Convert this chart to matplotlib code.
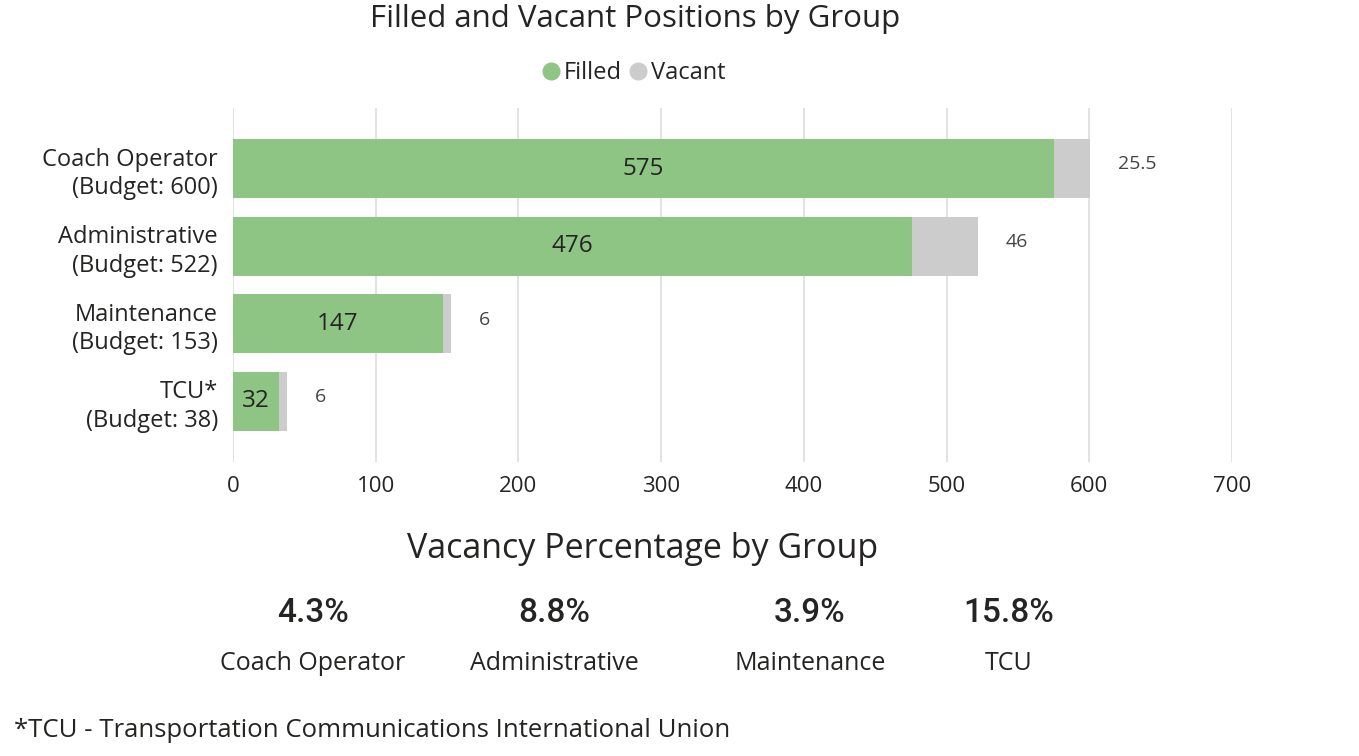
import matplotlib
matplotlib.use("Agg")
import matplotlib.pyplot as plt
from matplotlib.lines import Line2D

plt.rcParams['font.family'] = ['Open Sans', 'DejaVu Sans']

# data
groups = ['Coach Operator', 'Administrative', 'Maintenance', 'TCU']
group_labels = ['Coach Operator\n(Budget: 600)', 'Administrative\n(Budget: 522)',
                'Maintenance\n(Budget: 153)', 'TCU*\n(Budget: 38)']
filled = [575, 476, 147, 32]
vacant = [25.5, 46, 6, 6]
vacancy_pct = [4.3, 8.8, 3.9, 15.8]
xticks = [0, 100, 200, 300, 400, 500, 600, 700]

green = '#8fc584'
grey = '#cccccc'
text_col = '#252423'

fig = plt.figure(figsize=(13.59, 7.56), dpi=100)
ax = fig.add_axes([0.1715, 0.389, 0.735, 0.468])

ypos = list(range(len(groups)))
ax.barh(ypos, filled, height=0.76, color=green, zorder=3)
ax.barh(ypos, vacant, left=filled, height=0.76, color=grey, zorder=3)

for i in ypos:
    ax.text(filled[i] / 2, i, str(filled[i]), ha='center', va='center',
            fontsize=17.5, color=text_col, zorder=4)
    ax.annotate(f'{vacant[i]:g}', (filled[i] + vacant[i], i), xytext=(20, 3),
                textcoords='offset points', ha='left', va='center',
                fontsize=14, color='#444444')

ax.set_xlim(0, 700)
ax.set_ylim(len(groups) - 1 + 0.78, -0.78)
ax.set_xticks(xticks)
ax.set_yticks(ypos)
ax.set_yticklabels(group_labels, fontsize=17, color=text_col, linespacing=1.25)
ax.tick_params(axis='x', labelsize=16, colors=text_col, length=0, pad=10)
ax.tick_params(axis='y', length=0, pad=11)
for lbl in ax.get_yticklabels():
    lbl.set_horizontalalignment('right')
    lbl.set_multialignment('right')
ax.grid(axis='x', color='#dddddd', linewidth=1.2, zorder=0)
for s in ax.spines.values():
    s.set_visible(False)

# title and legend
fig.text(0.467, 0.975, 'Filled and Vacant Positions by Group', ha='center', va='center',
         fontsize=22.5, color=text_col)
handles = [Line2D([], [], marker='o', linestyle='', color=green, markersize=12),
           Line2D([], [], marker='o', linestyle='', color=grey, markersize=12)]
fig.legend(handles, ['Filled', 'Vacant'], loc='center', bbox_to_anchor=(0.466, 0.903),
           ncol=2, frameon=False, fontsize=17, handlelength=0.8, handletextpad=0.15,
           columnspacing=0.3, labelcolor=text_col)

# vacancy percentage section
fig.text(0.473, 0.274, 'Vacancy Percentage by Group', ha='center', va='center',
         fontsize=24.5, color=text_col)
kpi_x = [0.230, 0.408, 0.596, 0.742]
for i, g in enumerate(groups):
    fig.text(kpi_x[i], 0.189, f'{vacancy_pct[i]:.1f}%', ha='center', va='center',
             fontsize=24, fontfamily='Roboto', fontweight='medium', color=text_col)
    fig.text(kpi_x[i], 0.122, g, ha='center', va='center', fontsize=18, color=text_col)

fig.text(0.010, 0.034, '*TCU - Transportation Communications International Union',
         ha='left', va='center', fontsize=18.5, color=text_col)

fig.savefig('out.png', dpi=100, facecolor='white')
